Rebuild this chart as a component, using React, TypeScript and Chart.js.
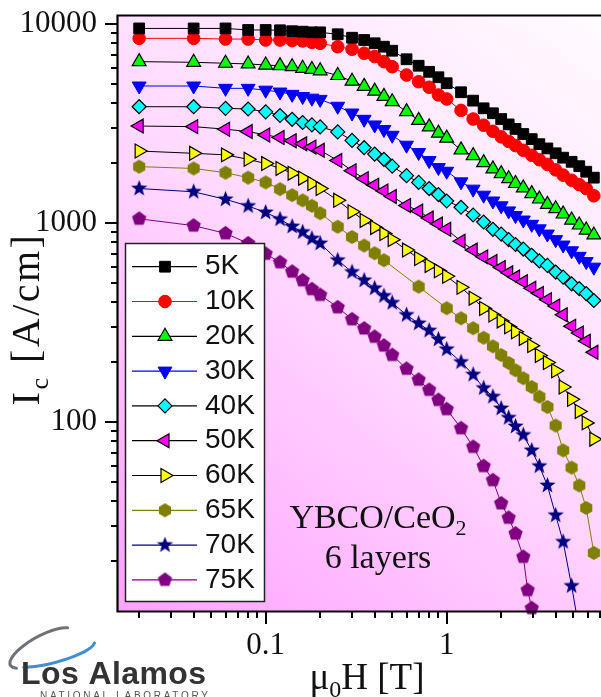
import React, { useEffect, useRef } from 'react';
import { Chart, registerables } from 'chart.js';
import { drawPoint } from 'chart.js/helpers';

Chart.register(...registerables);

// ---------------- data ----------------
const FIELD_T = [0.02, 0.04, 0.06, 0.08, 0.1, 0.12, 0.14, 0.16, 0.18, 0.2, 0.25, 0.3, 0.35, 0.4, 0.45, 0.5, 0.6, 0.7, 0.8, 0.9, 1.0, 1.2, 1.4, 1.6, 1.8, 2.0, 2.2, 2.4, 2.65, 2.8, 2.95, 3.25, 3.6, 4.0, 4.4, 4.9, 5.4, 5.9, 6.5];

const IC_5K = [9500, 9500, 9500, 9330, 9330, 9300, 9200, 9150, 9080, 9080, 8880, 8530, 8310, 8000, 7690, 7340, 6650, 6170, 5750, 5400, 5040, 4540, 4120, 3770, 3560, 3330, 3130, 2970, 2800, null, 2640, 2490, 2370, 2240, 2130, 2030, 1930, 1810, 1690];
const IC_10K = [8470, 8470, 8400, 8400, 8310, 8310, 8250, 8215, 8090, 8000, 7690, 7470, 7130, 6860, 6470, 6100, 5540, 5130, 4810, 4400, 4200, 3680, 3330, 3100, 2890, 2710, 2570, 2450, 2320, null, 2190, 2080, 1970, 1850, 1740, 1640, 1560, 1490, 1370];
const IC_20K = [6470, 6420, 6350, 6300, 6220, 6170, 6100, 5990, 5910, 5820, 5510, 5160, 4860, 4600, 4330, 4070, 3630, 3280, 3040, 2830, 2670, 2330, 2180, 2010, 1870, 1770, 1670, 1580, 1500, null, 1405, 1320, 1240, 1180, 1110, 1035, 977, 922, 871];
const IC_30K = [4880, 4880, 4750, 4750, 4650, 4550, 4430, 4320, 4240, 4180, 3860, 3570, 3320, 3110, 2950, 2760, 2460, 2260, 2060, 1900, 1820, 1610, 1480, 1380, 1290, 1220, 1150, 1090, 1035, null, 985, 935, 880, 825, 775, 725, 680, 640, 600];
const IC_40K = [3840, 3840, 3770, 3740, 3620, 3470, 3320, 3200, 3110, 3040, 2870, 2600, 2390, 2220, 2090, 1930, 1730, 1600, 1490, 1390, 1290, 1200, 1097, 1012, 930, 880, 825, 780, 740, null, 688, 645, 612, 567, 535, 495, 468, 442, 408];
const IC_50K = [3070, 3050, 2960, 2880, 2770, 2690, 2590, 2500, 2410, 2320, 2060, 1830, 1670, 1550, 1450, 1360, 1225, 1150, 1060, 990, 930, 810, 731, 676, 641, 598, 562, 535, 507, null, 470, 443, 412, 383, 346, 303, 280, 255, 224];
const IC_60K = [2300, 2240, 2200, 2090, 1990, 1880, 1780, 1680, 1580, 1490, 1300, 1140, 1030, 950, 885, 825, 731, 663, 612, 575, 540, 475, 419, 372, 345, 322, 301, 284, 263, null, 242, 216, 199, 181, 150, 130, 113, 99, 82];
const IC_65K = [1920, 1880, 1790, 1690, 1600, 1480, 1380, 1300, 1220, 1120, 958, 850, 770, 705, 650, null, null, 479, null, null, 373, 332, 296, 265, 240, 217, 198, 182, 166, null, 150, 134, 119, 96, 72, 59, 48, 37, 22];
const IC_70K = [1490, 1435, 1315, 1217, 1130, 1045, 960, 900, 835, 790, 650, 567, 515, 470, 430, 397, 345, 313, 288, 260, 232, 200, 173, 148, 134, 117, 105, 95, 86, null, 72, 60, 48, 34, 25, 15, 9, null, null];
const IC_75K = [1050, 970, 887, 790, 700, 635, 569, 515, 465, 435, 377, 328, 295, 268, 242, 217, 185, 163, 145, 129, 116, 93, 75, 60, 51, 39, 33, 27.5, 21, 14.3, 11.6, null, null, null, null, null, null, null, null];

const SERIES_LABELS = ['5K', '10K', '20K', '30K', '40K', '50K', '60K', '65K', '70K', '75K'];
const SERIES_VALUES = [IC_5K, IC_10K, IC_20K, IC_30K, IC_40K, IC_50K, IC_60K, IC_65K, IC_70K, IC_75K];

const X_TICK_LABELS = ['0.1', '1'];
const Y_TICK_LABELS = ['100', '1000', '10000'];

const X_MIN = 0.01528;
const X_MAX = 7.12;
const Y_MIN = 11.23;
const Y_MAX = 10970;

const ANNOTATION_LINE1 = 'YBCO/CeO';
const ANNOTATION_SUB = '2';
const ANNOTATION_LINE2 = '6 layers';

// ---------------- styles ----------------
type Sty = { line: string; style: string; rot: number; r: number; fill: string; stroke: string; bw: number };
const STYLES: Sty[] = [
  { line: '#000000', style: 'rect', rot: 0, r: 7.6, fill: '#000000', stroke: '#000000', bw: 1 },
  { line: '#ff0000', style: 'circle', rot: 0, r: 6.3, fill: '#ff0000', stroke: '#ff0000', bw: 1 },
  { line: '#000000', style: 'triangle', rot: 0, r: 8, fill: '#00ff00', stroke: '#000000', bw: 1.2 },
  { line: '#0000ff', style: 'triangle', rot: 180, r: 8, fill: '#0000ff', stroke: '#0000ff', bw: 1 },
  { line: '#000000', style: 'rectRot', rot: 0, r: 7, fill: '#00ffff', stroke: '#000000', bw: 1.2 },
  { line: '#000000', style: 'triangle', rot: -90, r: 8, fill: '#ff00ff', stroke: '#000000', bw: 1.2 },
  { line: '#000000', style: 'triangle', rot: 90, r: 8, fill: '#ffff00', stroke: '#000000', bw: 1.2 },
  { line: '#808000', style: 'hex', rot: 0, r: 7, fill: '#808000', stroke: '#808000', bw: 0 },
  { line: '#000080', style: 'star', rot: 0, r: 8.5, fill: '#000080', stroke: '#000080', bw: 0 },
  { line: '#800080', style: 'pent', rot: 0, r: 7.5, fill: '#800080', stroke: '#800080', bw: 0 },
];

const SERIF = '"Liberation Serif", "Times New Roman", serif';
const SANS = '"Liberation Sans", Arial, sans-serif';

function makeMarker(kind: string, color: string, r: number): HTMLCanvasElement {
  const s = Math.ceil(r * 2 + 2);
  const c = document.createElement('canvas');
  c.width = s;
  c.height = s;
  const g = c.getContext('2d')!;
  g.translate(s / 2, s / 2);
  g.beginPath();
  let n = 6;
  let radii = [r];
  if (kind === 'pent') n = 5;
  if (kind === 'star') {
    n = 10;
    radii = [r, r * 0.42];
  }
  for (let i = 0; i < n; i++) {
    const a = -Math.PI / 2 + (i * 2 * Math.PI) / n;
    const rr = radii[i % radii.length];
    const px = Math.cos(a) * rr;
    const py = Math.sin(a) * rr;
    if (i === 0) g.moveTo(px, py);
    else g.lineTo(px, py);
  }
  g.closePath();
  g.fillStyle = color;
  g.fill();
  return c;
}

function powLabel(v: number): string {
  const e = Math.log10(v);
  if (Math.abs(e - Math.round(e)) > 1e-6) return '';
  const r = Math.round(e);
  return r >= 0 ? String(Math.pow(10, r)) : Math.pow(10, r).toFixed(-r);
}

function drawParts(
  ctx: CanvasRenderingContext2D,
  parts: { t: string; sub: boolean }[],
  size: number,
  cx: number,
  baseY: number,
  spacing = 0
) {
  const main = `${size}px ${SERIF}`;
  const sub = `${Math.round(size * 0.66)}px ${SERIF}`;
  (ctx as any).letterSpacing = `${spacing}px`;
  let total = 0;
  const widths = parts.map((p) => {
    ctx.font = p.sub ? sub : main;
    const w = ctx.measureText(p.t).width;
    total += w;
    return w;
  });
  let x = cx - total / 2;
  ctx.textAlign = 'left';
  ctx.textBaseline = 'alphabetic';
  parts.forEach((p, i) => {
    ctx.font = p.sub ? sub : main;
    ctx.fillText(p.t, x, baseY + (p.sub ? size * 0.22 : 0));
    x += widths[i];
  });
  (ctx as any).letterSpacing = '0px';
}

export default function App() {
  const ref = useRef<HTMLCanvasElement | null>(null);

  useEffect(() => {
    const canvas = ref.current;
    if (!canvas) return;

    const pointStyles = STYLES.map((s) =>
      s.style === 'hex' || s.style === 'star' || s.style === 'pent' ? makeMarker(s.style, s.fill, s.r) : s.style
    );

    const datasets = SERIES_VALUES.map((vals, i) => {
      const st = STYLES[i];
      return {
        label: SERIES_LABELS[i],
        data: FIELD_T.map((x, j) => ({ x, y: vals[j] })).filter((p) => p.y !== null && p.y !== undefined),
        borderColor: st.line,
        backgroundColor: st.fill,
        borderWidth: 1,
        tension: 0,
        pointStyle: pointStyles[i] as any,
        pointRotation: st.rot,
        pointRadius: st.r,
        pointBackgroundColor: st.fill,
        pointBorderColor: st.stroke,
        pointBorderWidth: st.bw,
        clip: i === 9 ? false : i === 8 ? { left: 10, top: 10, right: 10, bottom: 0 } : undefined,
      };
    });

    const decor = {
      id: 'decor',
      beforeDraw(chart: any) {
        const { ctx, chartArea: a } = chart;
        ctx.save();
        const g = ctx.createLinearGradient(a.left, a.bottom, a.right, a.top);
        g.addColorStop(0, '#ffa2ff');
        g.addColorStop(0.5, '#ffd8ff');
        g.addColorStop(1, '#fffcff');
        ctx.fillStyle = g;
        ctx.fillRect(a.left, a.top, a.right - a.left, a.bottom - a.top);
        ctx.restore();
      },
      afterDraw(chart: any) {
        const { ctx, chartArea: a } = chart;
        const xs = chart.scales.x;
        const ys = chart.scales.y;
        ctx.save();
        // frame (left, top, bottom)
        ctx.strokeStyle = '#000';
        ctx.lineWidth = 2.2;
        ctx.beginPath();
        ctx.moveTo(a.right + 2, a.top - 0.5);
        ctx.lineTo(a.left - 0.5, a.top - 0.5);
        ctx.lineTo(a.left - 0.5, a.bottom + 0.5);
        ctx.lineTo(a.right + 2, a.bottom + 0.5);
        ctx.stroke();

        // tick marks
        ctx.lineWidth = 2;
        for (let e = -3; e <= 1; e++) {
          for (let d = 1; d <= 9; d++) {
            const v = d * Math.pow(10, e);
            if (v < X_MIN || v > X_MAX) continue;
            const px = Math.round(xs.getPixelForValue(v));
            const len = d === 1 ? 13 : 7;
            ctx.beginPath();
            ctx.moveTo(px, a.bottom);
            ctx.lineTo(px, a.bottom + len);
            ctx.stroke();
          }
        }
        for (let e = 1; e <= 4; e++) {
          for (let d = 1; d <= 9; d++) {
            const v = d * Math.pow(10, e);
            if (v < Y_MIN || v > Y_MAX) continue;
            const py = Math.round(ys.getPixelForValue(v));
            const len = d === 1 ? 13 : 7;
            ctx.beginPath();
            ctx.moveTo(a.left - len, py);
            ctx.lineTo(a.left, py);
            ctx.stroke();
          }
        }

        // axis titles
        ctx.fillStyle = '#111';
        drawParts(ctx, [{ t: 'μ', sub: false }, { t: '0', sub: true }, { t: 'H [T]', sub: false }], 37, 367, 689);
        ctx.save();
        ctx.translate(39, 319);
        ctx.rotate(-Math.PI / 2);
        drawParts(ctx, [{ t: 'I', sub: false }, { t: 'c', sub: true }, { t: ' [A/cm]', sub: false }], 40, 0, 0, 2.5);
        ctx.restore();

        // annotation
        drawParts(ctx, [{ t: ANNOTATION_LINE1, sub: false }, { t: ANNOTATION_SUB, sub: true }], 34, 378, 528);
        drawParts(ctx, [{ t: ANNOTATION_LINE2, sub: false }], 34, 378, 568);

        // legend
        const bx = 125.5, by = 243.5, bw = 139, bh = 358;
        ctx.fillStyle = '#ffffff';
        ctx.fillRect(bx, by, bw, bh);
        ctx.strokeStyle = '#222';
        ctx.lineWidth = 1.5;
        ctx.strokeRect(bx, by, bw, bh);
        SERIES_LABELS.forEach((lab, i) => {
          const st = STYLES[i];
          const cy = 266.7 + i * 34.8;
          ctx.strokeStyle = st.line;
          ctx.lineWidth = 1.2;
          ctx.beginPath();
          ctx.moveTo(132, cy);
          ctx.lineTo(197, cy);
          ctx.stroke();
          ctx.fillStyle = st.fill;
          ctx.strokeStyle = st.stroke;
          ctx.lineWidth = st.bw;
          drawPoint(ctx, { pointStyle: pointStyles[i] as any, rotation: st.rot, radius: st.r, borderWidth: st.bw } as any, 165, cy);
          ctx.fillStyle = '#111';
          ctx.font = `28px ${SANS}`;
          ctx.textAlign = 'left';
          ctx.textBaseline = 'middle';
          ctx.fillText(lab, 205, cy);
        });

        // logo
        ctx.lineCap = 'round';
        ctx.strokeStyle = '#6f7378';
        ctx.lineWidth = 3;
        ctx.beginPath();
        ctx.ellipse(42, 648, 36, 12, -0.5, Math.PI * 0.85, Math.PI * 1.85);
        ctx.stroke();
        ctx.strokeStyle = '#3f8fd2';
        ctx.lineWidth = 3;
        ctx.beginPath();
        ctx.ellipse(52, 652, 44, 11, -0.25, Math.PI * 0.05, Math.PI * 0.75);
        ctx.stroke();
        ctx.fillStyle = '#333';
        ctx.font = `bold 32px ${SANS}`;
        ctx.textAlign = 'left';
        ctx.textBaseline = 'alphabetic';
        (ctx as any).letterSpacing = '0.4px';
        ctx.fillText('Los Alamos', 21, 684);
        ctx.fillStyle = '#555';
        ctx.font = `10px ${SANS}`;
        (ctx as any).letterSpacing = '2.7px';
        ctx.fillText('NATIONAL LABORATORY', 40, 699);
        (ctx as any).letterSpacing = '0px';
        ctx.restore();
      },
    };

    const chart = new Chart(canvas, {
      type: 'line',
      data: { datasets: datasets as any },
      options: {
        responsive: false,
        animation: false,
        events: [],
        layout: { autoPadding: false, padding: { top: 16, left: 0, right: 0, bottom: 0 } },
        plugins: { legend: { display: false }, tooltip: { enabled: false } },
        scales: {
          x: {
            type: 'logarithmic',
            min: X_MIN,
            max: X_MAX,
            grid: { display: false, drawTicks: false },
            border: { display: false },
            ticks: {
              autoSkip: false,
              maxRotation: 0,
              padding: 16,
              color: '#111',
              font: { family: SERIF, size: 31 },
              callback: (v: any) => {
                const l = powLabel(Number(v));
                return X_TICK_LABELS.includes(l) ? l : '';
              },
            },
            afterFit: (s: any) => {
              s.height = 86;
              s.paddingLeft = 0;
              s.paddingRight = 0;
            },
          },
          y: {
            type: 'logarithmic',
            min: Y_MIN,
            max: Y_MAX,
            grid: { display: false, drawTicks: false },
            border: { display: false },
            ticks: {
              autoSkip: false,
              padding: 21,
              color: '#111',
              font: { family: SERIF, size: 31 },
              callback: (v: any) => {
                const l = powLabel(Number(v));
                return Y_TICK_LABELS.includes(l) ? l : '';
              },
            },
            afterFit: (s: any) => {
              s.width = 118;
              s.paddingTop = 0;
              s.paddingBottom = 0;
            },
          },
        },
      } as any,
      plugins: [decor],
    });

    return () => chart.destroy();
  }, []);

  return (
    <div style={{ position: 'fixed', left: 0, top: 0, width: 601, height: 697, overflow: 'hidden', background: '#fff' }}>
      <canvas ref={ref} width={601} height={697} style={{ display: 'block', width: 601, height: 697 }} />
    </div>
  );
}
